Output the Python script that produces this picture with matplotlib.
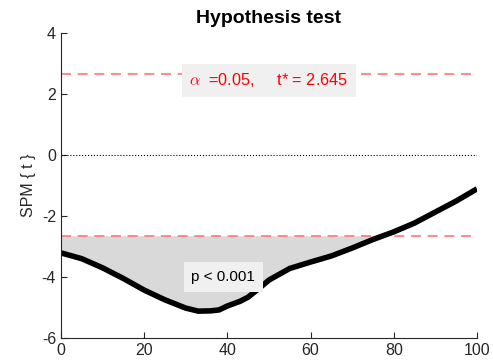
import numpy as np
import matplotlib.pyplot as plt

plt.rcParams['font.family'] = ['Liberation Sans', 'DejaVu Sans']
plt.rcParams['mathtext.fontset'] = 'cm'
plt.rcParams['axes.unicode_minus'] = False

# SPM{t} trajectory
x = [0, 5, 10, 15, 20, 25, 30, 33, 36, 38, 40, 43, 45, 48, 50, 55, 60, 65, 70, 75, 80, 85, 90, 95, 100]
t = [-3.21, -3.40, -3.70, -4.05, -4.43, -4.75, -5.02, -5.12, -5.11, -5.08, -4.95, -4.80, -4.66, -4.33,
     -4.10, -3.72, -3.51, -3.31, -3.05, -2.77, -2.52, -2.23, -1.87, -1.51, -1.11]
alpha = 0.05
tstar = 2.645
pval_text = "p < 0.001"

x = np.array(x)
t = np.array(t)

fig = plt.figure(figsize=(4.93, 3.63), dpi=100)
ax = fig.add_axes([0.1237, 0.0689, 0.8438, 0.8402])

ax.fill_between(x, t, -tstar, where=t <= -tstar, interpolate=True, color='0.85', lw=0)
ax.axhline(0, color='k', ls=':', lw=0.8)
ax.axhline(tstar, color='#ff7777', ls=(0, (6, 4)), lw=1.2)
ax.axhline(-tstar, color='#ff7777', ls=(0, (6, 4)), lw=1.2)
ax.plot(x, t, color='k', lw=4, solid_capstyle='butt')

ax.text(50, 2.45, r"$\alpha$  =%.2f,     t* = %.3f" % (alpha, tstar), color='red', fontsize=11.7,
        ha='center', va='center',
        bbox=dict(boxstyle='square,pad=0.45', fc='0.94', ec='none'))
ax.text(39, -4.0, pval_text, color='k', fontsize=11, ha='center', va='center',
        bbox=dict(boxstyle='square,pad=0.5', fc='0.94', ec='none'))

ax.set_xlim(0, 100)
ax.set_ylim(-6, 4)
ax.set_xticks([0, 20, 40, 60, 80, 100])
ax.set_yticks([-6, -4, -2, 0, 2, 4])
ax.tick_params(direction='in', length=4, labelsize=11.5, colors='0.15')
ax.spines['top'].set_visible(False)
ax.spines['right'].set_visible(False)
ax.spines['left'].set_color('0.15')
ax.spines['bottom'].set_color('0.15')
ax.set_ylabel("SPM { t }", fontsize=11.5, color='0.15')
ax.set_title("Hypothesis test", fontsize=14, fontweight='bold', pad=7)

fig.savefig("out.png", dpi=100)
